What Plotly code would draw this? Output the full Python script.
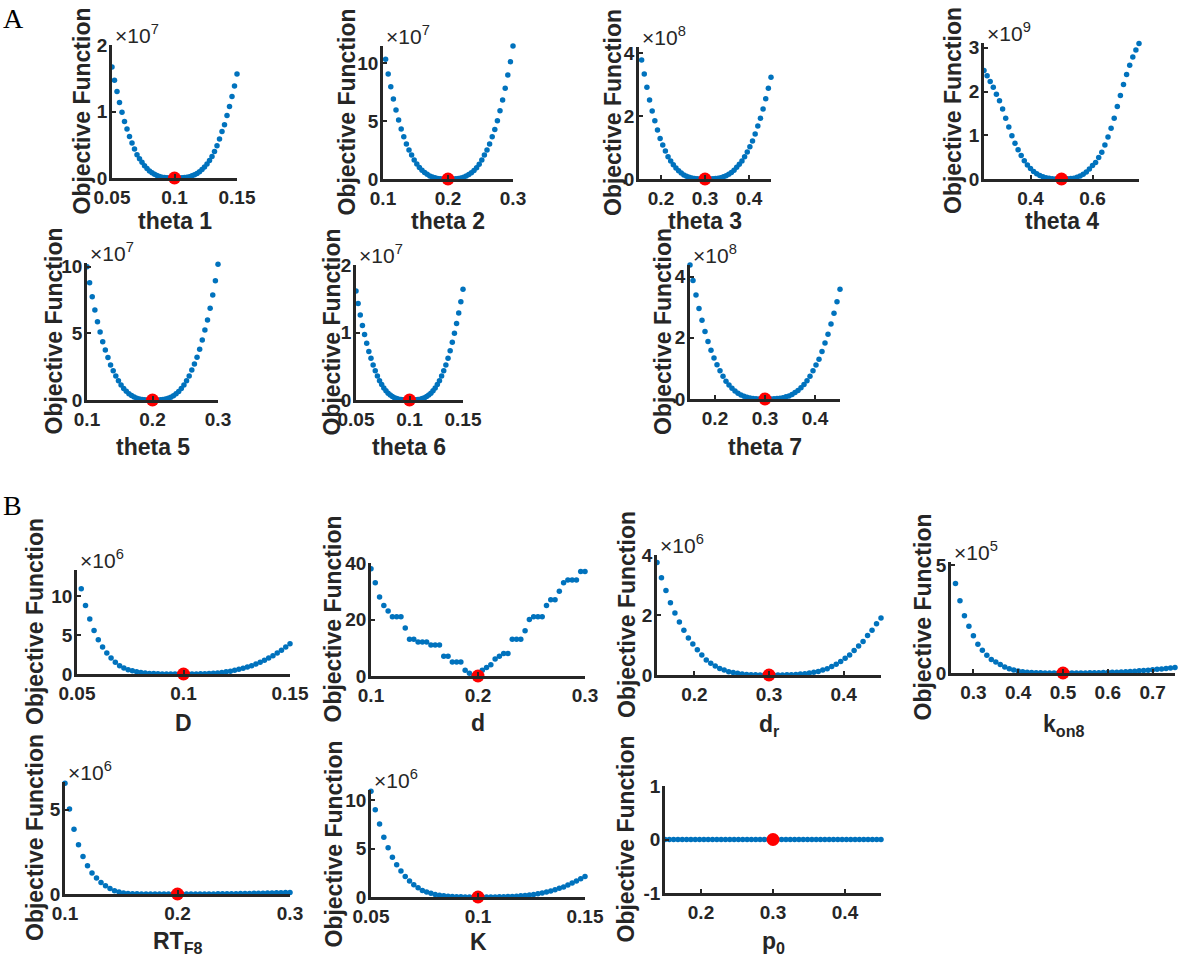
import plotly.graph_objects as go

W, H = 1202, 958

# ---------------- data ----------------
# sweep multipliers of the nominal parameter value (51 points, 0.5x .. 1.5x)
MULT = [0.50, 0.52, 0.54, 0.56, 0.58, 0.60, 0.62, 0.64, 0.66, 0.68,
        0.70, 0.72, 0.74, 0.76, 0.78, 0.80, 0.82, 0.84, 0.86, 0.88,
        0.90, 0.92, 0.94, 0.96, 0.98, 1.00, 1.02, 1.04, 1.06, 1.08,
        1.10, 1.12, 1.14, 1.16, 1.18, 1.20, 1.22, 1.24, 1.26, 1.28,
        1.30, 1.32, 1.34, 1.36, 1.38, 1.40, 1.42, 1.44, 1.46, 1.48, 1.50]

PARAM_LABELS = ["theta 1", "theta 2", "theta 3", "theta 4", "theta 5", "theta 6", "theta 7",
                "D", "d", "d<sub>r</sub>", "k<sub>on8</sub>", "RT<sub>F8</sub>", "K", "p<sub>0</sub>"]
PARAM_NOMINAL = [0.1, 0.2, 0.3, 0.5, 0.2, 0.1, 0.3, 0.1, 0.2, 0.3, 0.5, 0.2, 0.1, 0.3]
EXPONENTS = [7, 7, 8, 9, 7, 7, 8, 6, None, 6, 5, 6, 6, None]

# objective values, in units of 10^EXPONENT
Y_THETA1 = [1.67, 1.47, 1.30, 1.135, 0.99, 0.85, 0.735, 0.625, 0.525, 0.435, 0.35, 0.29, 0.235,
            0.185, 0.142, 0.107, 0.078, 0.055, 0.037, 0.023, 0.013, 0.007, 0.003, 0.001, 0.0002,
            0.0,
            0.0001, 0.0008, 0.0025, 0.006, 0.011, 0.02, 0.032, 0.048, 0.069, 0.095, 0.127, 0.165,
            0.21, 0.265, 0.325, 0.40, 0.485, 0.585, 0.70, 0.80, 0.94, 1.075, 1.225, 1.385, 1.565]
Y_THETA2 = [11.73, 10.35, 9.08, 7.98, 6.92, 5.97, 5.10, 4.32, 3.66, 3.03, 2.51, 2.07, 1.64,
            1.30, 1.0, 0.76, 0.56, 0.40, 0.27, 0.17, 0.10, 0.05, 0.022, 0.007, 0.001,
            0.0,
            0.001, 0.006, 0.02, 0.05, 0.095, 0.16, 0.26, 0.38, 0.54, 0.74, 0.98, 1.28, 1.64,
            2.07, 2.51, 3.03, 3.66, 4.29, 5.04, 5.9, 6.83, 7.84, 9.0, 10.14, 11.5]
Y_THETA3 = [4.32, 3.79, 3.34, 2.92, 2.51, 2.16, 1.85, 1.56, 1.29, 1.08, 0.89, 0.71, 0.57,
            0.45, 0.35, 0.26, 0.19, 0.13, 0.088, 0.055, 0.031, 0.016, 0.007, 0.002, 0.0003,
            0.0,
            0.0002, 0.0015, 0.005, 0.013, 0.025, 0.043, 0.068, 0.10, 0.15, 0.21, 0.28, 0.37,
            0.47, 0.57, 0.71, 0.86, 1.03, 1.21, 1.43, 1.69, 1.93, 2.23, 2.55, 2.89, 3.24]
Y_THETA4 = [2.48, 2.36, 2.23, 2.10, 1.94, 1.79, 1.60, 1.39, 1.19, 0.99, 0.82, 0.67, 0.54,
            0.42, 0.32, 0.24, 0.17, 0.12, 0.08, 0.05, 0.03, 0.015, 0.007, 0.002, 0.0003,
            0.0,
            0.0005, 0.003, 0.009, 0.02, 0.04, 0.07, 0.11, 0.16, 0.23, 0.31, 0.38, 0.49, 0.61,
            0.78, 0.96, 1.16, 1.39, 1.66, 1.91, 2.16, 2.39, 2.60, 2.79, 2.95, 3.10]
Y_THETA5 = [10.0, 8.8, 7.75, 6.75, 5.88, 5.1, 4.38, 3.75, 3.18, 2.63, 2.2, 1.8, 1.45,
            1.13, 0.87, 0.65, 0.47, 0.33, 0.22, 0.135, 0.078, 0.04, 0.017, 0.005, 0.0007,
            0.0,
            0.0007, 0.005, 0.016, 0.038, 0.075, 0.13, 0.21, 0.32, 0.46, 0.64, 0.86, 1.12, 1.45,
            1.8, 2.25, 2.7, 3.2, 3.8, 4.5, 5.25, 6.0, 6.88, 7.88, 8.95, 10.18]
Y_THETA6 = [1.615, 1.43, 1.26, 1.105, 0.97, 0.84, 0.72, 0.617, 0.52, 0.435, 0.355, 0.286, 0.228,
            0.178, 0.136, 0.10, 0.073, 0.051, 0.034, 0.021, 0.012, 0.006, 0.0025, 0.0008, 0.0001,
            0.0,
            0.0001, 0.0008, 0.0025, 0.006, 0.012, 0.021, 0.034, 0.051, 0.073, 0.10, 0.136, 0.178,
            0.228, 0.286, 0.355, 0.435, 0.52, 0.617, 0.73, 0.855, 0.99, 1.135, 1.29, 1.455, 1.64]
Y_THETA7 = [4.38, 3.87, 3.40, 2.96, 2.57, 2.21, 1.88, 1.59, 1.34, 1.12, 0.92, 0.74, 0.58,
            0.46, 0.35, 0.26, 0.19, 0.13, 0.09, 0.055, 0.032, 0.016, 0.007, 0.002, 0.0003,
            0.0,
            0.0002, 0.0015, 0.005, 0.013, 0.025, 0.043, 0.07, 0.10, 0.15, 0.21, 0.28, 0.37,
            0.47, 0.60, 0.74, 0.92, 1.11, 1.30, 1.55, 1.83, 2.12, 2.45, 2.80, 3.18, 3.59]
Y_D = [13.65, 11.0, 8.84, 7.08, 5.62, 4.42, 3.48, 2.70, 2.06, 1.50, 1.07, 0.77, 0.56,
       0.43, 0.3, 0.2, 0.13, 0.08, 0.05, 0.03, 0.015, 0.007, 0.002, 0.0005, 0.0001,
       0.0,
       0.0005, 0.003, 0.008, 0.018, 0.035, 0.06, 0.09, 0.14, 0.2, 0.28, 0.37, 0.47,
       0.60, 0.73, 0.90, 1.07, 1.29, 1.50, 1.76, 2.06, 2.36, 2.70, 3.05, 3.48, 3.9]
Y_d = [38, 33, 28, 25, 23, 21, 21, 21, 17, 13, 13, 12, 12,
       12, 11, 11, 11, 7, 7, 5, 5, 5, 2, 1, 0,
       0,
       2, 3, 4, 6, 7, 8, 8, 13, 13, 13, 16, 20, 21,
       21, 21, 25, 27, 27, 30, 33, 34, 34, 34, 37, 37]
Y_DR = [3.75, 3.24, 2.82, 2.41, 2.07, 1.77, 1.49, 1.23, 1.03, 0.84, 0.67, 0.50, 0.39,
        0.30, 0.22, 0.17, 0.11, 0.08, 0.055, 0.035, 0.02, 0.01, 0.005, 0.002, 0.0005,
        0.0,
        0.0002, 0.001, 0.003, 0.006, 0.012, 0.02, 0.03, 0.045, 0.065, 0.09, 0.12, 0.17,
        0.21, 0.28, 0.36, 0.45, 0.56, 0.67, 0.82, 0.97, 1.12, 1.32, 1.49, 1.71, 1.90]
Y_KON8 = [5.19, 4.15, 3.34, 2.65, 2.17, 1.72, 1.33, 1.05, 0.82, 0.63, 0.51, 0.39, 0.28,
          0.2, 0.14, 0.09, 0.06, 0.04, 0.025, 0.015, 0.008, 0.004, 0.002, 0.0007, 0.0001,
          0.0,
          0.0001, 0.0004, 0.001, 0.002, 0.004, 0.006, 0.009, 0.013, 0.018, 0.025, 0.032, 0.04,
          0.05, 0.06, 0.072, 0.085, 0.10, 0.115, 0.13, 0.15, 0.17, 0.19, 0.21, 0.23, 0.25]
Y_RTF8 = [6.58, 5.04, 3.85, 2.92, 2.23, 1.68, 1.25, 0.95, 0.69, 0.49, 0.32, 0.2, 0.12,
          0.065, 0.035, 0.018, 0.009, 0.004, 0.002, 0.001, 0.0005, 0.0002, 0.0001, 0.00003, 0.0,
          0.0,
          0.0, 0.0003, 0.001, 0.0015, 0.002, 0.003, 0.004, 0.006, 0.008, 0.01, 0.013, 0.016,
          0.02, 0.024, 0.028, 0.033, 0.038, 0.044, 0.05, 0.056, 0.062, 0.069, 0.076, 0.083, 0.09]
Y_K = [10.9, 9.0, 7.53, 6.16, 5.07, 4.11, 3.32, 2.67, 2.12, 1.64, 1.27, 0.96, 0.68,
       0.51, 0.38, 0.27, 0.19, 0.13, 0.08, 0.05, 0.03, 0.015, 0.007, 0.002, 0.0005,
       0.0,
       0.0003, 0.0015, 0.004, 0.008, 0.015, 0.025, 0.04, 0.06, 0.09, 0.12, 0.16, 0.21,
       0.27, 0.34, 0.41, 0.51, 0.62, 0.75, 0.89, 1.03, 1.23, 1.44, 1.64, 1.88, 2.12]
Y_P0 = [0, 0, 0, 0, 0, 0, 0, 0, 0, 0, 0, 0, 0, 0, 0, 0, 0, 0, 0, 0, 0, 0, 0, 0, 0,
        0,
        0, 0, 0, 0, 0, 0, 0, 0, 0, 0, 0, 0, 0, 0, 0, 0, 0, 0, 0, 0, 0, 0, 0, 0, 0]

Y_SERIES = [Y_THETA1, Y_THETA2, Y_THETA3, Y_THETA4, Y_THETA5, Y_THETA6, Y_THETA7,
            Y_D, Y_d, Y_DR, Y_KON8, Y_RTF8, Y_K, Y_P0]
OPT_VALUE = [0, 0, 0, 0, 0, 0, 0, 0, 0, 0, 0, 0, 0, 0]

X_TICKS = [[0.05, 0.1, 0.15], [0.1, 0.2, 0.3], [0.2, 0.3, 0.4], [0.4, 0.6],
           [0.1, 0.2, 0.3], [0.05, 0.1, 0.15], [0.2, 0.3, 0.4],
           [0.05, 0.1, 0.15], [0.1, 0.2, 0.3], [0.2, 0.3, 0.4], [0.3, 0.4, 0.5, 0.6, 0.7],
           [0.1, 0.2, 0.3], [0.05, 0.1, 0.15], [0.2, 0.3, 0.4]]
Y_TICKS = [[0, 1, 2], [0, 5, 10], [0, 2, 4], [0, 1, 2, 3], [0, 5, 10], [0, 1, 2], [0, 2, 4],
           [0, 5, 10], [0, 20, 40], [0, 2, 4], [0, 5], [0, 5], [0, 5, 10], [-1, 0, 1]]
Y_RANGES = [[0, 2], [0, 11.5], [0, 4.2], [0, 3.11], [0, 10.28], [0, 2], [0, 4.38],
            [0, 13.4], [0, 40], [0, 4], [0, 5.14], [0, 6.65], [0, 11.03], [-1, 1]]

# ---------------- layout geometry (pixels) ----------------
BOXES = [  # x0, x1, ytop, ybottom
    (112, 237, 45, 178), (383, 513, 46, 179), (639, 771, 47, 179), (984, 1139, 43, 179),
    (87, 218, 263, 400), (356, 463, 265, 400), (690, 840, 265, 399),
    (77, 290, 570, 674), (371, 585, 563, 676), (657, 881, 555, 675), (951, 1175, 562, 673),
    (65, 290, 782, 894), (371, 585, 790, 897), (665, 881, 786, 893),
]
YLABEL_X = [82, 347, 613, 953, 53, 331, 663, 35, 332, 627, 922, 35, 333, 625]
XLABEL_Y = [221, 221, 221, 221, 447, 447, 447, 723, 723, 725, 725, 942, 942, 942]

FONT = "Liberation Sans, Arial, Helvetica, sans-serif"
INK = "#262626"
BLUE = "#0072BD"
RED = "#FF0000"


def px_x(v):
    return v / W


def px_y(v):
    return 1 - v / H


def fmt(v):
    return "%g" % v


fig = go.Figure()
annotations = []
layout_axes = {}

for i in range(14):
    x0, x1, yt, yb = BOXES[i]
    nom = PARAM_NOMINAL[i]
    xs = [nom * m for m in MULT]
    ys = Y_SERIES[i]
    n = i + 1
    xa = "x" if n == 1 else "x%d" % n
    ya = "y" if n == 1 else "y%d" % n

    fig.add_trace(go.Scatter(x=xs, y=ys, mode="markers", xaxis=xa, yaxis=ya,
                             marker=dict(color=BLUE, size=5.5, line=dict(width=0)),
                             cliponaxis=False, showlegend=False, hoverinfo="skip"))
    fig.add_trace(go.Scatter(x=[nom], y=[OPT_VALUE[i]], mode="markers", xaxis=xa, yaxis=ya,
                             marker=dict(color=RED, size=13, line=dict(width=0)),
                             cliponaxis=False, showlegend=False, hoverinfo="skip"))

    axis_common = dict(showline=True, linewidth=2.5, linecolor=INK, mirror=False,
                       showgrid=False, zeroline=False, ticks="inside", ticklen=4,
                       tickwidth=2, tickcolor=INK, automargin=False, fixedrange=True,
                       tickfont=dict(family=FONT, size=19, color=INK, weight="bold"))
    layout_axes["xaxis" if n == 1 else "xaxis%d" % n] = dict(
        domain=[px_x(x0), px_x(x1)], anchor=ya,
        range=[0.5 * nom, 1.5 * nom], tickvals=X_TICKS[i],
        ticktext=[fmt(v) for v in X_TICKS[i]], **axis_common)
    layout_axes["yaxis" if n == 1 else "yaxis%d" % n] = dict(
        domain=[px_y(yb), px_y(yt)], anchor=xa,
        range=Y_RANGES[i], tickvals=Y_TICKS[i], ticklabelstandoff=-2,
        ticktext=[fmt(v) for v in Y_TICKS[i]], **axis_common)

    # x label
    annotations.append(dict(text="<b>%s</b>" % PARAM_LABELS[i], xref="paper", yref="paper",
                            x=px_x((x0 + x1) / 2), y=px_y(XLABEL_Y[i]),
                            xanchor="center", yanchor="middle", showarrow=False,
                            font=dict(family=FONT, size=23, color=INK)))
    # y label
    annotations.append(dict(text="<b>Objective Function</b>", xref="paper", yref="paper",
                            x=px_x(YLABEL_X[i]), y=px_y((yt + yb) / 2), textangle=-90,
                            xanchor="center", yanchor="middle", showarrow=False,
                            font=dict(family=FONT, size=23, color=INK)))
    # exponent
    if EXPONENTS[i] is not None:
        annotations.append(dict(text="\u00d710<sup>%d</sup>" % EXPONENTS[i],
                                xref="paper", yref="paper",
                                x=px_x(x0 + 1), y=px_y(yt - 11),
                                xanchor="left", yanchor="middle", showarrow=False,
                                font=dict(family=FONT, size=21, color=INK)))

# panel letters
for letter, (lx, ly) in [("A", (13, 19)), ("B", (12, 505))]:
    annotations.append(dict(text=letter, xref="paper", yref="paper",
                            x=px_x(lx), y=px_y(ly), xanchor="center", yanchor="middle",
                            showarrow=False,
                            font=dict(family="Liberation Serif, Times New Roman, serif",
                                      size=28, color="#000000")))

fig.update_layout(width=W, height=H, margin=dict(l=0, r=0, t=0, b=0, autoexpand=False),
                  paper_bgcolor="white", plot_bgcolor="white", dragmode=False,
                  annotations=annotations, **layout_axes)

fig.write_html("out.html", config={"displayModeBar": False},
               post_script="document.body.style.margin='0';document.body.style.overflow='hidden';")
